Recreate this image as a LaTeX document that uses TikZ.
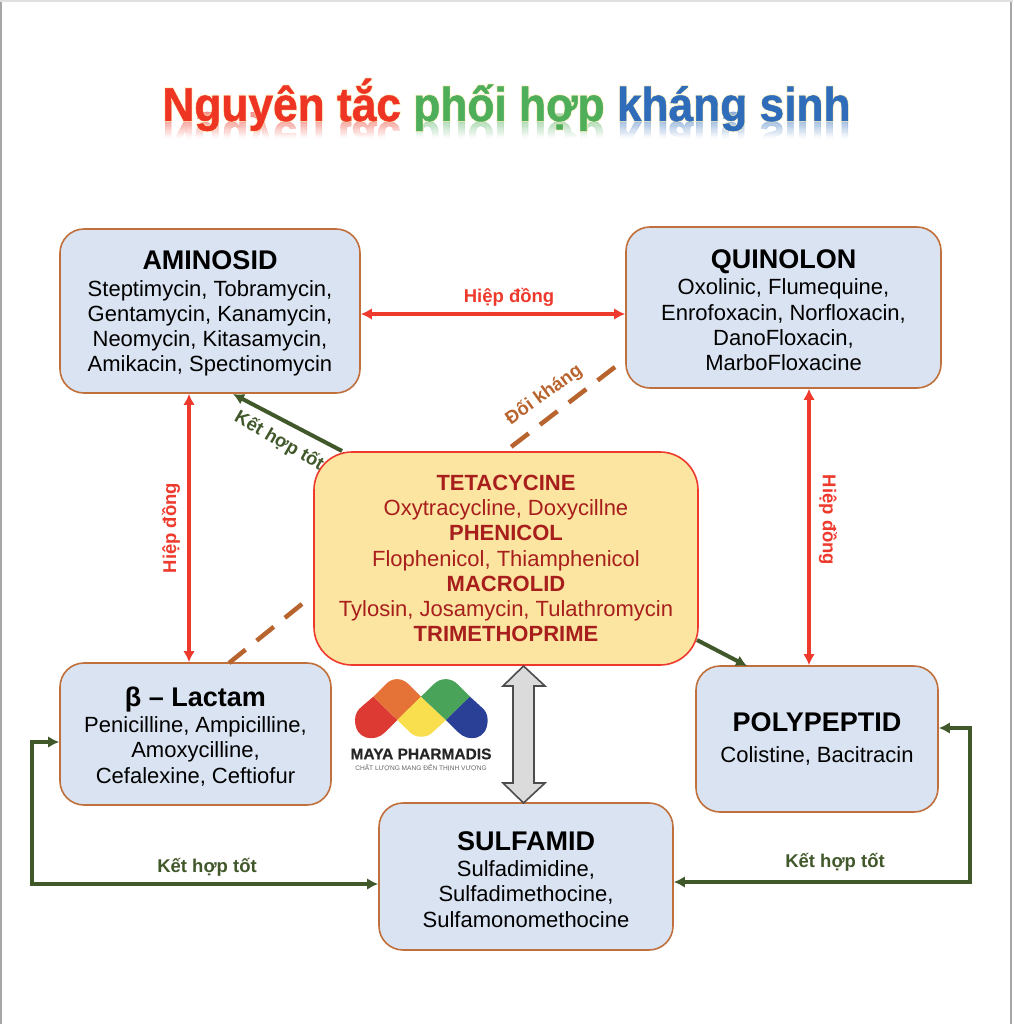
\documentclass[tikz,border=0pt]{standalone}
\usepackage{fontspec}
\setmainfont{Liberation Sans}
\newfontface\titleface[FakeBold=1]{Liberation Sans Bold}
\newfontface\haloface[FakeBold=5]{Liberation Sans Bold}
\newfontface\brandface[FakeBold=0.5]{Liberation Sans Bold}
\usetikzlibrary{arrows.meta}
\definecolor{boxfill}{HTML}{DAE3F1}
\definecolor{boxline}{HTML}{C0703C}
\definecolor{corefill}{HTML}{FBE5A1}
\definecolor{coreline}{HTML}{EE3A2C}
\definecolor{coretext}{HTML}{A81E1C}
\definecolor{synred}{HTML}{EE3A2C}
\definecolor{goodgreen}{HTML}{41582B}
\definecolor{antibrown}{HTML}{B8642F}
\definecolor{titlered}{HTML}{EE3524}
\definecolor{titlegreen}{HTML}{4FAE5A}
\definecolor{titleblue}{HTML}{2F6DBA}
\definecolor{halo}{HTML}{FBE9A8}
\definecolor{capred}{HTML}{DE3A34}
\definecolor{caporange}{HTML}{E57236}
\definecolor{capyellow}{HTML}{F9DF4E}
\definecolor{capgreen}{HTML}{49A45A}
\definecolor{capblue}{HTML}{2A3F96}
\newcommand{\bodyfont}{\fontsize{22}{25.3}\selectfont}
\newcommand{\headfont}[1]{{\fontsize{27}{25.3}\selectfont\bfseries #1}}
\newcommand{\headgap}{\rule{0pt}{24.3pt}}
\newcommand{\titleline}{\fontsize{47.5}{50}\titleface
  \textcolor{titlered}{Nguyên tắc} \textcolor{titlegreen}{phối hợp} \textcolor{titleblue}{kháng sinh}}
\newcommand{\titleglow}{\fontsize{47.5}{50}\haloface Nguyên tắc phối hợp kháng sinh}
\tikzset{
  x=1pt,y=-1pt,
  >={Latex[length=11pt,width=11.5pt]},
  drugbox/.style={draw=boxline,fill=boxfill,line width=1.6pt,rounded corners=24pt,
    align=center,inner sep=0pt,font=\bodyfont,text=black},
  corebox/.style={draw=coreline,fill=corefill,line width=1.6pt,rounded corners=38pt,
    align=center,inner sep=0pt,font=\bodyfont,text=coretext},
  synergy/.style={draw=synred,line width=3.3pt,<->},
  goodlink/.style={draw=goodgreen,line width=4pt},
  antilink/.style={draw=antibrown,line width=4.5pt,dash pattern=on 22pt off 14.3pt},
  linklabel/.style={font=\fontsize{18.5}{20}\selectfont\bfseries,inner sep=0pt},
  titletext/.style={inner sep=0pt,anchor=base,xscale=.932},
}
\begin{document}
\begin{tikzpicture}
\useasboundingbox (0,0) rectangle (1013,1024);
\fill[white] (0,0) rectangle (1013,1024);
\draw[black!35,line width=2pt] (1,0) -- (1,1024) (1011,0) -- (1011,1024);
\draw[black!12,line width=2pt] (0,1) -- (1013,1);

% Title: mirrored reflection under a fading veil, soft halo, coloured words
\node[titletext,yscale=-1,opacity=.5] (titleMirror) at (506.5,122) {\titleline};
\foreach \i in {0,...,15}{
  \pgfmathsetmacro{\op}{min(1,0.2+\i*0.06)}
  \fill[white,opacity=\op] (150,{122+\i*1.2}) rectangle (870,{122+(\i+1)*1.2});
}
\fill[white] (150,141) rectangle (870,175);
\node[titletext,text=halo,opacity=.55] (titleHalo) at (506.5,121) {\titleglow};
\node[titletext] (title) at (506.5,121) {\titleline};

% Free ends of the antagonism links
\coordinate (antiA) at (615,367);
\coordinate (antiB) at (511,447);
\coordinate (antiC) at (302,604);
\coordinate (antiD) at (229,663);

% Drug family boxes
\node[drugbox,minimum width=300pt,minimum height=164pt] (ami) at (210,311)
  {\headgap\headfont{AMINOSID}\\[1pt]Steptimycin, Tobramycin,\\Gentamycin, Kanamycin,\\Neomycin, Kitasamycin,\\Amikacin, Spectinomycin};
\node[drugbox,minimum width=315pt,minimum height=161pt] (qui) at (783.5,307.5)
  {\headgap\headfont{QUINOLON}\\[1pt]Oxolinic, Flumequine,\\Enrofoxacin, Norfloxacin,\\DanoFloxacin,\\MarboFloxacine};
\node[drugbox,minimum width=271pt,minimum height=142pt] (lac) at (195.5,734)
  {\headgap\headfont{β – Lactam}\\[1pt]Penicilline, Ampicilline,\\Amoxycilline,\\Cefalexine, Ceftiofur};
\node[drugbox,minimum width=242pt,minimum height=146pt] (pol) at (817,739)
  {\headfont{POLYPEPTID}\\[5pt]Colistine, Bacitracin};
\node[drugbox,minimum width=294pt,minimum height=147pt] (sul) at (526,876.5)
  {\headgap\headfont{SULFAMID}\\[1pt]Sulfadimidine,\\Sulfadimethocine,\\Sulfamonomethocine};
\node[corebox,minimum width=384pt,minimum height=213pt] (core) at (506,558.5)
  {\textbf{TETACYCINE}\\Oxytracycline, Doxycillne\\\textbf{PHENICOL}\\Flophenicol, Thiamphenicol\\\textbf{MACROLID}\\Tylosin, Josamycin, Tulathromycin\\\textbf{TRIMETHOPRIME}};

% Antagonism links
\draw[antilink] (antiA) -- (antiB);
\draw[antilink] (antiC) -- (antiD);

% Synergy links
\draw[synergy] ([yshift=-3pt]ami.east) -- ([yshift=-6.5pt]qui.west);
\draw[synergy] ([xshift=-21pt]ami.south) -- ([xshift=-6.5pt]lac.north);
\draw[synergy] ([xshift=25.5pt]qui.south) -- ([xshift=-8pt]pol.north);

% Good-combination links
\coordinate (goodAstart) at (342,451);
\coordinate (goodAend) at (233,394);
\coordinate (goodBstart) at (697,640);
\coordinate (goodBend) at (747,666);
\draw[goodlink,->] (goodAstart) -- (goodAend);
\draw[goodlink,->] (goodBstart) -- (goodBend);
\coordinate (leftTop) at (32,742);
\coordinate (leftLow) at (32,884);
\coordinate (rightTop) at (970,728);
\coordinate (rightLow) at (970,882);
\draw[goodlink,<->] ([yshift=-8pt]lac.west) -- (leftTop) -- (leftLow) -- ([yshift=-7.5pt]sul.west);
\draw[goodlink,<->] ([yshift=11pt]pol.east) -- (rightTop) -- (rightLow) -- ([yshift=-5.5pt]sul.east);

% Wide double arrow between the core box and the sulfonamides
\draw[draw=black!70,fill=black!14,line width=1.6pt,line join=miter]
  (523.5,666) -- (545,686) -- (534,686) -- (534,783) -- (545,783) -- (523.5,803)
  -- (503,783) -- (513,783) -- (513,686) -- (503,686) -- cycle;

% Link labels
\node[linklabel,text=synred] (lblTop) at (509,297) {Hiệp đồng};
\node[linklabel,text=synred,rotate=90] (lblLeft) at (171,528) {Hiệp đồng};
\node[linklabel,text=synred,rotate=-90] (lblRight) at (828,520) {Hiệp đồng};
\node[linklabel,text=antibrown,rotate=36] (lblAnti) at (544,395) {Đối kháng};
\node[linklabel,text=goodgreen,rotate=-30] (lblGoodA) at (279,441) {Kết hợp tốt};
\node[linklabel,text=goodgreen] (lblGoodB) at (207,867) {Kết hợp tốt};
\node[linklabel,text=goodgreen] (lblGoodC) at (835,862) {Kết hợp tốt};

% Company mark: four interlocking capsule segments
\begin{scope}[shift={(340,650)},x=0.3333pt,y=-0.3333pt]
  \fill[capred] (100,140) -- (172,210) -- (135,247) .. controls (105,278) and (45,270) .. (45,210)
    .. controls (45,190) and (55,178) .. (65,170) -- cycle;
  \fill[caporange] (100,140) -- (135,105) .. controls (155,82) and (185,82) .. (205,102)
    -- (243,140) -- (172,210) -- cycle;
  \fill[capyellow] (243,140) -- (318,210) -- (280,245) .. controls (262,265) and (228,265) .. (210,247)
    -- (172,210) -- cycle;
  \fill[capgreen] (243,140) -- (282,102) .. controls (302,82) and (335,82) .. (355,105)
    -- (390,140) -- (318,210) -- cycle;
  \fill[capblue] (390,140) -- (425,172) .. controls (435,180) and (443,192) .. (443,210)
    .. controls (443,270) and (385,278) .. (355,247) -- (318,210) -- cycle;
\end{scope}
\node[inner sep=0pt,font={\fontsize{15.5}{17}\brandface},text=black!85] (brand) at (421,754) {MAYA PHARMADIS};
\node[inner sep=0pt,font=\fontsize{6.6}{8}\selectfont,text=black!60] (motto) at (421,768) {CHẤT LƯỢNG MANG ĐẾN THỊNH VƯỢNG};
\end{tikzpicture}
\end{document}
